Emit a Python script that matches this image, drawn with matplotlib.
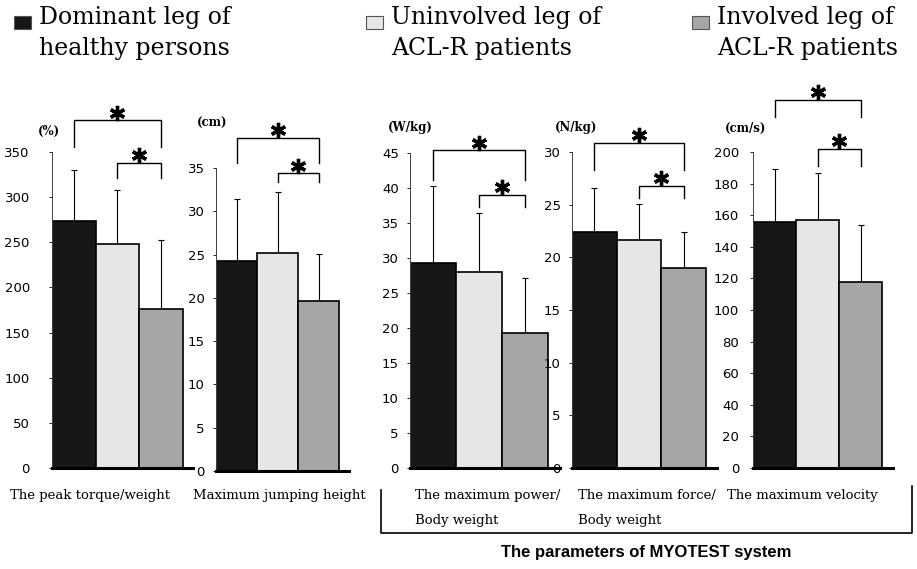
import matplotlib
matplotlib.use('Agg')
import matplotlib.pyplot as plt
from matplotlib.patches import Rectangle
from matplotlib.transforms import offset_copy

# values (mean and upper SD)
categories = ['The peak torque/weight', 'Maximum jumping height',
              'The maximum power/\nBody weight', 'The maximum force/\nBody weight',
              'The maximum velocity']
units = ['(%)', '(cm)', '(W/kg)', '(N/kg)', '(cm/s)']
groups = ['Dominant leg of\nhealthy persons', 'Uninvolved leg of\nACL-R patients',
          'Involved leg of\nACL-R patients']
dominant = [274, 24.2, 29.3, 22.4, 156]
uninvolved = [248, 25.2, 28.0, 21.6, 157]
involved = [176, 19.6, 19.3, 19.0, 118]
dominant_sd = [56, 7.2, 11.0, 4.2, 33]
uninvolved_sd = [60, 7.0, 8.4, 3.5, 30]
involved_sd = [76, 5.5, 7.8, 3.4, 36]
y_max = [350, 35, 45, 30, 200]
y_step = [50, 5, 5, 5, 20]
# significance brackets: (outer top, outer legs, inner top, inner legs)
brackets = [(385, 355, 338, 321), (38.5, 35.6, 34.4, 33.4), (45.4, 41.1, 39.0, 37.3),
            (30.9, 28.3, 26.8, 25.6), (233, 222, 202, 191)]

colors = ['#161616', '#e6e6e6', '#a6a6a6']

W, H = 917, 569
fig = plt.figure(figsize=(W / 100, H / 100), dpi=100)


def fx(x):
    return x / W


def fy(y):
    return 1 - y / H


# pixel layout of each panel
axis_x = [52, 216, 410, 572, 753]
bar_w = [43.5, 41, 46, 44.7, 43]
y_zero = [468, 471, 468, 468, 468]
y_top = [152, 168, 153, 152, 152]
lab_pad = [14, 6, 6, 6, 8]
unit_x = [49, 212, 410, 576, 746]
unit_y = [131, 123, 128, 128, 128]

for i in range(5):
    bw = bar_w[i]
    ax = fig.add_axes([fx(axis_x[i]), fy(y_zero[i]), 3.25 * bw / W, (y_zero[i] - y_top[i]) / H])
    ax.patch.set_alpha(0)
    vals = [dominant[i], uninvolved[i], involved[i]]
    sds = [dominant_sd[i], uninvolved_sd[i], involved_sd[i]]
    xs = [0.5, 1.5, 2.5]
    ax.bar(xs, vals, width=1.0, color=colors, edgecolor='black', linewidth=1.2, zorder=2)
    ax.errorbar(xs, vals, yerr=[[0, 0, 0], sds], fmt='none', ecolor='black',
                elinewidth=0.8, capsize=2.5, capthick=0.8, zorder=1)
    ax.set_xlim(0, 3.25)
    ax.set_ylim(0, y_max[i])
    ax.set_yticks(range(0, y_max[i] + 1, y_step[i]))
    ax.set_xticks([])
    for s in ['top', 'right']:
        ax.spines[s].set_visible(False)
    ax.spines['left'].set_linewidth(0.7)
    ax.spines['left'].set_color('#444444')
    ax.spines['bottom'].set_linewidth(2.2)
    ax.tick_params(axis='y', length=2, width=0.6, pad=lab_pad[i], labelsize=9.5)

    # unit label
    fig.text(fx(unit_x[i]), fy(unit_y[i]), units[i], ha='center', va='center',
             fontsize=8.5, family='DejaVu Serif', fontweight='bold')

    # significance brackets
    o_top, o_leg, i_top, i_leg = brackets[i]
    ax.plot([0.5, 0.5, 2.5, 2.5], [o_leg, o_top, o_top, o_leg], color='black', lw=1.0, clip_on=False)
    ax.plot([1.5, 1.5, 2.5, 2.5], [i_leg, i_top, i_top, i_leg], color='black', lw=1.0, clip_on=False)
    star_tr = offset_copy(ax.transData, fig=fig, y=5.5, units='points')
    ax.plot([1.5, 2.0], [o_top, i_top], linestyle='none', marker=(6, 2, 0), markersize=11,
            markeredgewidth=2.4, color='black', transform=star_tr, clip_on=False)

# category labels
cat_x = [10, 193, 415, 578, 727]
for i, c in enumerate(categories):
    fig.text(fx(cat_x[i]), fy(489), c, ha='left', va='top', fontsize=9.5,
             family='DejaVu Serif', linespacing=2.2)

# legend
leg_x = [14, 366, 692]
for i, g in enumerate(groups):
    fig.patches.append(Rectangle((fx(leg_x[i]), fy(29)), 17 / W, 13 / H, transform=fig.transFigure,
                                 facecolor=colors[i], edgecolor='#555555', linewidth=0.8))
    fig.text(fx(leg_x[i] + 25), fy(6), g, ha='left', va='top', fontsize=17,
             family='DejaVu Serif', linespacing=1.45)

# MYOTEST bracket
fig.lines.append(plt.Line2D([fx(381), fx(381), fx(912), fx(912)], [fy(490), fy(533), fy(533), fy(486)],
                            transform=fig.transFigure, color='black', lw=1.2))
fig.text(fx(646), fy(552), 'The parameters of MYOTEST system', ha='center', va='center',
         fontsize=12, fontweight='bold', family='Liberation Sans')

fig.savefig('out.png', dpi=100)
